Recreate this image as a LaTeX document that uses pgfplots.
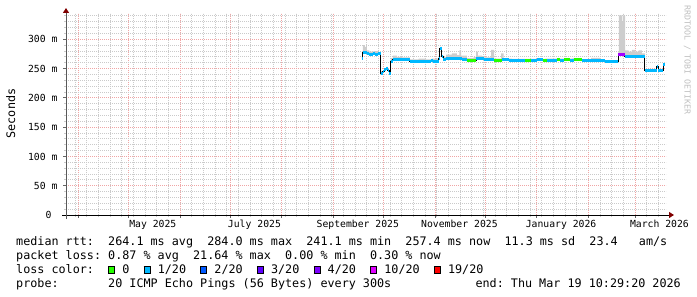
\documentclass[border=0pt]{standalone}
\usepackage{pgfplots}
\pgfplotsset{compat=1.18}
\usepackage{pgfplotstable}
\usepgfplotslibrary{fillbetween}
\usetikzlibrary{arrows.meta}
\usepackage{fontspec}
\setmainfont{DejaVu Sans Mono}
\newfontfamily\lgfont{DejaVu Sans Mono}
\definecolor{gridc}{RGB}{202,202,202}
\definecolor{mgridc}{RGB}{240,165,165}
\definecolor{arrowc}{RGB}{128,0,0}
\definecolor{loss0}{HTML}{26FF00}
\definecolor{loss1}{HTML}{00B8FF}
\definecolor{loss2}{HTML}{0059FF}
\definecolor{loss3}{HTML}{5E00FF}
\definecolor{loss4}{HTML}{7E00FF}
\definecolor{loss10}{HTML}{DD00FF}
\definecolor{loss19}{HTML}{FF0000}
\definecolor{lossmix}{HTML}{A400FF}
\definecolor{smoke}{RGB}{205,205,205}
\newcommand\lgsize{\fontsize{11.8}{14}\selectfont}
\newcommand\tksize{\fontsize{9.8}{12}\selectfont}
\newcommand\sw[1]{\makebox[7.1bp][c]{\raisebox{0.8bp}{\setlength\fboxsep{0pt}\setlength\fboxrule{1bp}\fcolorbox{black}{#1}{\rule{0pt}{6bp}\rule{5bp}{0pt}}}}}

% median rtt (days since 1 May 2025, ms)
\pgfplotstableread{
x y
139.9 267.5
140.6 277.0
142.0 278.0
143.0 276.0
144.5 274.5
146.5 275.5
148.0 274.0
149.5 275.0
151.2 241.1
152.5 244.5
153.5 248.0
154.5 250.5
155.5 246.0
156.3 242.5
157.4 261.5
158.5 265.5
160.0 266.0
163.0 265.0
166.0 266.0
168.8 263.0
172.0 262.5
176.0 263.0
179.0 262.0
181.5 264.0
182.5 262.5
186.0 268.0
186.8 284.0
188.0 270.0
188.8 265.5
190.5 268.0
193.0 266.5
196.0 267.5
200.0 266.0
203.0 264.5
208.5 266.5
211.0 268.0
213.0 266.0
216.0 265.0
219.0 264.0
224.0 265.0
228.0 264.0
233.0 264.5
238.0 264.0
241.5 264.5
245.0 265.0
248.5 264.5
251.0 264.0
254.0 264.5
257.0 265.0
259.0 264.5
261.5 265.0
265.0 264.5
267.0 265.0
272.0 263.5
276.0 264.5
280.0 264.0
283.0 263.5
285.8 262.0
293.8 274.5
297.8 271.0
302.0 271.5
306.0 270.5
309.8 246.0
313.0 247.0
316.9 254.0
317.8 247.5
320.8 257.4
321.8 257.4
}\med

% upper edge of the smoke
\pgfplotstableread{
x y
139.9 270
140.6 290
141.8 287
143.0 281
144.5 279
147.0 280
149.5 278
151.2 246
153.5 251
154.5 253
155.5 249
156.3 246
157.4 268
158.5 272
161.0 270
164.0 269
168.8 266
174.0 267
178.0 266
182.0 267
186.0 272
186.8 287
188.0 273
188.8 270
190.5 274
194.0 276
197.0 273
198.5 281
199.5 272
203.0 268
207.0 270
208.5 279
209.5 272
212.0 269
217.5 282
219.3 267
223.5 276
225.0 267
230.0 266.5
250.0 267
266.0 267.5
270.8 266
277.5 268.5
283.0 265
285.8 263.5
293.8 280
294.2 341
296.0 330
296.4 341
297.9 281
298.9 281
300.0 279
302.0 282
304.0 279
306.0 281
307.9 276
309.8 248
316.9 255
317.8 249
320.8 259
321.8 259
}\up

\begin{document}
\begin{tikzpicture}
\path (0,0) rectangle (697bp,-297bp);
\begin{axis}[
  at={(66bp,-215bp)}, anchor=south west,
  width=600bp, height=202bp, scale only axis,
  xmin=-37.56, xmax=322.44, ymin=0, ymax=345,
  axis x line=bottom, axis y line=left,
  x axis line style={draw=black, line width=1bp, shorten <=-4bp, shorten >=-8bp, -{Triangle[length=5bp,width=6bp,color=arrowc,fill=arrowc]}},
  y axis line style={draw=black!65, line width=1bp, shorten <=-4bp, shorten >=-5bp, -{Triangle[length=5bp,width=6bp,color=arrowc,fill=arrowc]}},
  xtick={-30,0,31,61,92,123,153,184,214,245,276,304},
  xticklabels={},
  minor xtick={-32,-25,...,318},
  extra x ticks={14.5,75.5,137.5,198.5,259.5,318.5},
  extra x tick labels={May 2025,July 2025,September 2025,November 2025,January 2026,March 2026},
  extra x tick style={grid=none, major tick length=0pt},
  ytick={0,50,...,300},
  yticklabels={0~~,50~m,100~m,150~m,200~m,250~m,300~m},
  minor ytick={10,20,30,40,60,70,80,90,110,120,130,140,160,170,180,190,210,220,230,240,260,270,280,290,310,320,330,340},
  grid=both,
  major grid style={mgridc, line width=0.9bp, dash pattern=on 1bp off 1bp},
  minor grid style={gridc, line width=0.9bp, dash pattern=on 1bp off 1bp},
  tick align=outside,
  major tick length=3bp, minor tick length=2bp,
  major tick style={draw=black!60, line width=1bp},
  minor tick style={draw=gridc, line width=1bp},
  tick label style={font=\lgfont\tksize, text=black, inner sep=0pt},
  xticklabel style={anchor=base, yshift=-12.7bp},
  yticklabel style={anchor=east, xshift=-5.3bp},
]
\addplot[name path=up, draw=none, const plot] table {\up};
\addplot[name path=med, draw=none, const plot] table {\med};
\addplot[smoke, draw=none] fill between[of=up and med];
\addplot[black, line width=1bp, const plot] table {\med};
\addplot[loss1, line width=3bp, jump mark left] table {\med};
\addplot[loss0, line width=3bp, unbounded coords=jump] coordinates {
(203,264.5) (208.5,264.5) (210,nan)
(219,264.0) (224,264.0) (225,nan)
(238,264.0) (241.5,264.0) (242,nan)
(248.5,264.5) (251,264.5) (252,nan)
(257,265.0) (259,265.0) (260,nan)
(261.5,265.0) (265,265.0) (266,nan)
(267,265.0) (272,265.0)
};
\addplot[lossmix, line width=3bp] coordinates {(293.8,274.5) (297.8,274.5)};
\end{axis}
\node[rotate=90, anchor=base, inner sep=0pt, font=\lgfont\lgsize] at (15bp,-113.5bp) {Seconds};
\node[rotate=-90, anchor=base west, inner sep=0pt, font=\lgfont\fontsize{8.3}{10}\selectfont, text=black!25] at (684.5bp,-5bp) {RRDTOOL / TOBI OETIKER};
\begin{scope}[every node/.style={anchor=base west, inner sep=0pt, font=\lgfont\lgsize}]
\node at (16bp,-245.3bp) {median~rtt:~~264.1~ms~avg~~284.0~ms~max~~241.1~ms~min~~257.4~ms~now~~11.3~ms~sd~~23.4~~~am/s};
\node at (16bp,-259.3bp) {packet~loss:~0.87~\%~avg~~21.64~\%~max~~0.00~\%~min~~0.30~\%~now};
\node at (16bp,-273.3bp) {loss~color:~~\sw{loss0}~0~~\sw{loss1}~1/20~~\sw{loss2}~2/20~~\sw{loss3}~3/20~~\sw{loss4}~4/20~~\sw{loss10}~10/20~~\sw{loss19}~19/20};
\node at (16bp,-287.3bp) {probe:~~~~~~~20~ICMP~Echo~Pings~(56~Bytes)~every~300s};
\node[anchor=base east] at (681bp,-287.3bp) {end:~Thu~Mar~19~10:29:20~2026};
\end{scope}
\end{tikzpicture}
\end{document}
